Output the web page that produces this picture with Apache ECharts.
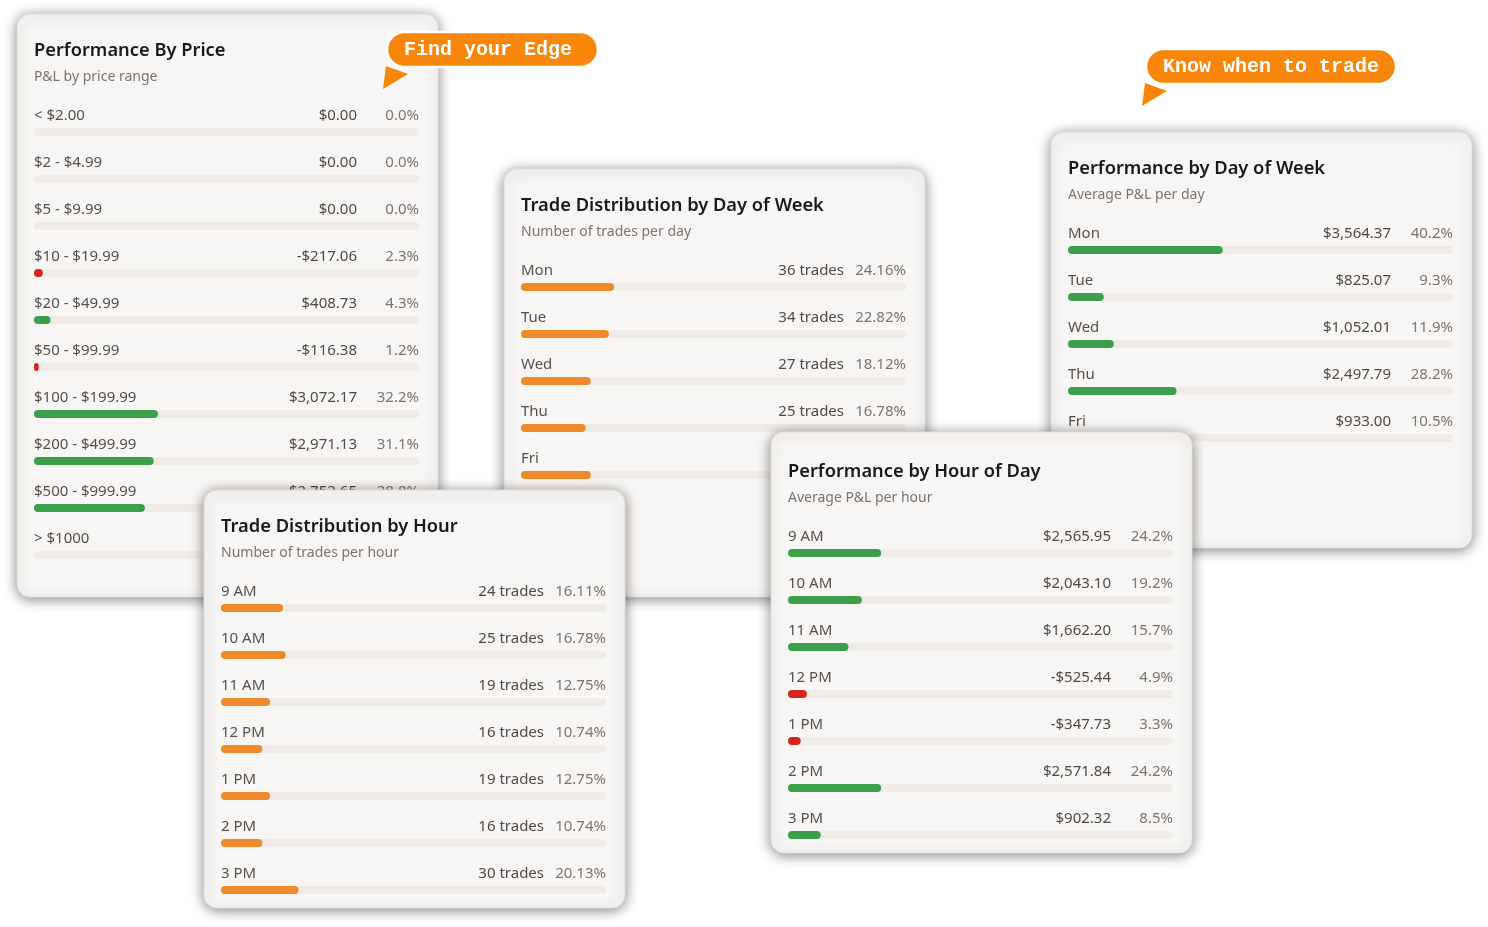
<!DOCTYPE html>
<html>
<head>
<meta charset="utf-8">
<title>Trading performance</title>
<script src="https://cdn.jsdelivr.net/npm/echarts@6/dist/echarts.min.js"></script>
<style>
  html, body { margin: 0; padding: 0; background: #ffffff; }
  #chart { width: 1488px; height: 927px; }
</style>
</head>
<body>
<div id="chart"></div>
<script>
// price buckets
const priceRanges = ['< $2.00', '$2 - $4.99', '$5 - $9.99', '$10 - $19.99', '$20 - $49.99', '$50 - $99.99', '$100 - $199.99', '$200 - $499.99', '$500 - $999.99', '> $1000']
const pricePnl = [0, 0, 0, -217.06, 408.73, -116.38, 3072.17, 2971.13, 2752.65, 0]
const pricePct = [0, 0, 0, 2.3, 4.3, 1.2, 32.2, 31.1, 28.8, 0]

// day of week
const dayNames = ['Mon', 'Tue', 'Wed', 'Thu', 'Fri']
const dayTrades = [36, 34, 27, 25, 27]
const dayTradePct = [24.16, 22.82, 18.12, 16.78, 18.12]
const dayPnl = [3564.37, 825.07, 1052.01, 2497.79, 933.00]
const dayPnlPct = [40.2, 9.3, 11.9, 28.2, 10.5]

// hour of day
const hourNames = ['9 AM', '10 AM', '11 AM', '12 PM', '1 PM', '2 PM', '3 PM']
const hourTrades = [24, 25, 19, 16, 19, 16, 30]
const hourTradePct = [16.11, 16.78, 12.75, 10.74, 12.75, 10.74, 20.13]
const hourPnl = [2565.95, 2043.10, 1662.20, -525.44, -347.73, 2571.84, 902.32]
const hourPnlPct = [24.2, 19.2, 15.7, 4.9, 3.3, 24.2, 8.5]

const GREEN = '#3c9f4a'
const RED = '#d6261b'
const ORANGE = '#ee8a2c'
const TRACK = '#efebe7'
const CARD = '#f8f6f4'
const FONT = '"Noto Sans", sans-serif'
const MONO = '"Liberation Mono", "DejaVu Sans Mono", monospace'

const CARD_W = 421
const PAD = 17
const TRACK_W = 385
const ROW = 47

function money(v) {
  const s = Math.abs(v).toFixed(2).replace(/\B(?=(\d{3})+(?!\d))/g, ',')
  return (v < 0 ? '-$' : '$') + s
}

function pnlColors(pnl) {
  return pnl.map(v => (v < 0 ? RED : GREEN))
}

// ext = extra px of card above the content start
const panels = [
  {
    x: 17, y: 14, h: 583, ext: 0, front: false,
    title: 'Performance By Price', sub: 'P&L by price range',
    names: priceRanges, pct: pricePct, colors: pnlColors(pricePnl),
    right: pricePnl.map((v, i) => [money(v), pricePct[i].toFixed(1) + '%'])
  },
  {
    x: 504, y: 169, h: 428, ext: 0, front: false,
    title: 'Trade Distribution by Day of Week', sub: 'Number of trades per day',
    names: dayNames, pct: dayTradePct, colors: dayNames.map(() => ORANGE),
    right: dayTrades.map((v, i) => [v + ' trades', dayTradePct[i].toFixed(2) + '%'])
  },
  {
    x: 1051, y: 132, h: 416, ext: 0, front: false,
    title: 'Performance by Day of Week', sub: 'Average P&L per day',
    names: dayNames, pct: dayPnlPct, colors: pnlColors(dayPnl),
    right: dayPnl.map((v, i) => [money(v), dayPnlPct[i].toFixed(1) + '%'])
  },
  {
    x: 204, y: 490, h: 418, ext: 0, front: true,
    title: 'Trade Distribution by Hour', sub: 'Number of trades per hour',
    names: hourNames, pct: hourTradePct, colors: hourNames.map(() => ORANGE),
    right: hourTrades.map((v, i) => [v + ' trades', hourTradePct[i].toFixed(2) + '%'])
  },
  {
    x: 771, y: 435, h: 418, ext: 3, front: true,
    title: 'Performance by Hour of Day', sub: 'Average P&L per hour',
    names: hourNames, pct: hourPnlPct, colors: pnlColors(hourPnl),
    right: hourPnl.map((v, i) => [money(v), hourPnlPct[i].toFixed(1) + '%'])
  }
]

function bubble(x, y, w, text, z) {
  return [
    {
      type: 'polygon', z: z,
      shape: { points: [[x - 1, y + 34], [x + 21, y + 42], [x - 4, y + 57]] },
      style: { fill: '#f7860b' }
    },
    {
      type: 'rect', z: z + 1,
      shape: { x: x, y: y, width: w, height: 35, r: 17.5 },
      style: { fill: '#f7860b', stroke: '#ffffff', lineWidth: 2.5 }
    },
    {
      type: 'text', z: z + 2,
      x: x + 17, y: y + 18,
      style: { text: text, fill: '#ffffff', font: 'bold 20px ' + MONO, align: 'left', verticalAlign: 'middle' }
    }
  ]
}

function initOption() {
  const graphic = []
  const grid = []
  const xAxis = []
  const yAxis = []
  const series = []

  panels.forEach((p, i) => {
    const z = p.front ? 10 : 1
    const cx = p.x + PAD

    graphic.push({
      type: 'rect', z: z,
      shape: { x: p.x, y: p.y - p.ext, width: CARD_W, height: p.h + p.ext, r: 13 },
      style: { fill: CARD, stroke: '#e4dcd4', lineWidth: 1, shadowBlur: 13, shadowColor: 'rgba(0, 0, 0, 0.48)', shadowOffsetY: 2 }
    })
    graphic.push({
      type: 'text', z: z + 3, x: cx, y: p.y + 37,
      style: { text: p.title, fill: '#1b1918', font: '600 18.3px ' + FONT, verticalAlign: 'middle' }
    })
    graphic.push({
      type: 'text', z: z + 3, x: cx, y: p.y + 63,
      style: { text: p.sub, fill: '#7a7470', font: '14px ' + FONT, verticalAlign: 'middle' }
    })

    grid.push({
      left: cx, top: p.y + 118 - ROW / 2, width: TRACK_W, height: p.names.length * ROW,
      show: false
    })
    xAxis.push({ type: 'value', gridIndex: i, min: 0, max: 100, show: false })

    const labelBase = {
      inside: true, margin: 0, interval: 0,
      verticalAlign: 'bottom', lineHeight: 18, padding: [0, 0, 7, 0],
      fontFamily: FONT, fontSize: 15, color: '#55504c'
    }
    yAxis.push({
      type: 'category', gridIndex: i, inverse: true, position: 'left', z: z + 2,
      data: p.names,
      axisLine: { show: false }, axisTick: { show: false }, splitLine: { show: false },
      axisLabel: labelBase
    })
    yAxis.push({
      type: 'category', gridIndex: i, inverse: true, position: 'right', z: z + 2,
      data: p.right.map(r => '{v|' + r[0] + '}{p|' + r[1] + '}'),
      axisLine: { show: false }, axisTick: { show: false }, splitLine: { show: false },
      axisLabel: Object.assign({}, labelBase, {
        align: 'right',
        rich: {
          v: { fontFamily: FONT, fontSize: 15, color: '#4f4a46', align: 'right', lineHeight: 18 },
          p: { fontFamily: FONT, fontSize: 15, color: '#7b7571', align: 'right', width: 62, lineHeight: 18 }
        }
      })
    })

    series.push({
      type: 'bar', xAxisIndex: i, yAxisIndex: i * 2, z: z + 1,
      barWidth: 8,
      silent: true,
      animation: false,
      showBackground: true,
      backgroundStyle: { color: TRACK, borderRadius: 4 },
      data: p.pct.map((v, k) => ({ value: v, itemStyle: { color: p.colors[k], borderRadius: 4 } }))
    })
  })

  graphic.push(...bubble(387, 32, 211, 'Find your Edge', 20))
  graphic.push(...bubble(1146, 49, 250, 'Know when to trade', 20))

  return {
    backgroundColor: '#ffffff',
    animation: false,
    graphic: { elements: graphic },
    grid: grid,
    xAxis: xAxis,
    yAxis: yAxis,
    series: series
  }
}

const chart = echarts.init(document.getElementById('chart'))
chart.setOption(initOption())
</script>
</body>
</html>
